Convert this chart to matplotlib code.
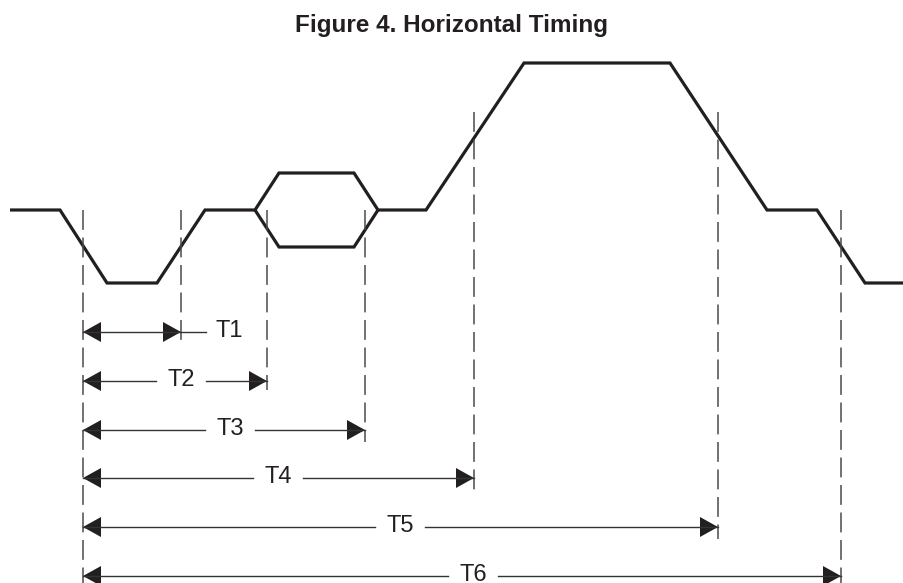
import matplotlib.pyplot as plt

# waveform corner points (pixel units, y goes down)
wave_x = [10, 60, 107, 157, 205, 255, 279, 354, 378, 426, 524, 670, 767, 817, 865, 904]
wave_y = [210, 210, 283, 283, 210, 210, 173, 173, 210, 210, 63, 63, 210, 210, 283, 283]
# lower half of the data "eye"
eye_x = [255, 279, 354, 378]
eye_y = [210, 247, 247, 210]

# dashed reference lines
mark_x = [83, 181, 267, 365, 474, 718, 841]
mark_top = [210, 210, 210, 210, 112, 112, 210]
mark_bot = [583, 343, 390, 442, 490, 539, 583]

# timing arrows
labels = ["T1", "T2", "T3", "T4", "T5", "T6"]
arrow_start = 83
arrow_end = [181, 267, 365, 474, 718, 841]
arrow_y = [332, 381, 430, 478, 527, 576]
label_x = [229, 181, 230, 278, 400, 473]

ink = "#231f20"
head_len = 18
head_half = 10
gap = 25

fig = plt.figure(figsize=(9.04, 5.83), dpi=100)
ax = fig.add_axes([0, 0, 1, 1])
ax.set_xlim(0, 904)
ax.set_ylim(583, 0)
ax.axis("off")

ax.plot(wave_x, wave_y, color=ink, lw=2.3, solid_joinstyle="miter", solid_capstyle="butt")
ax.plot(eye_x, eye_y, color=ink, lw=2.3, solid_joinstyle="miter", solid_capstyle="butt")

for x, y0, y1 in zip(mark_x, mark_top, mark_bot):
    ax.plot([x, x], [y0, y1], color="#4a4a4a", lw=1.1, linestyle=(0, (13, 5)))

for lab, xe, y, xl in zip(labels, arrow_end, arrow_y, label_x):
    xs = arrow_start
    if xl > xe:
        # label sits outside the arrow
        ax.plot([xs, xe + 25], [y, y], color="#333333", lw=1.0)
    else:
        ax.plot([xs, xl - gap], [y, y], color="#333333", lw=1.0)
        ax.plot([xl + gap, xe], [y, y], color="#333333", lw=1.0)
    ax.fill([xs, xs + head_len, xs + head_len], [y, y - head_half, y + head_half], color=ink, lw=0)
    ax.fill([xe, xe - head_len, xe - head_len], [y, y - head_half, y + head_half], color=ink, lw=0)
    ax.text(xl, y + 5, lab, ha="center", va="baseline", fontsize=17,
            family="Liberation Sans", color=ink)

ax.text(452, 32, "Figure 4. Horizontal Timing", ha="center", va="baseline",
        fontsize=17.5, fontweight="bold", family="Liberation Sans", color=ink)

fig.savefig("out.png", dpi=100)
